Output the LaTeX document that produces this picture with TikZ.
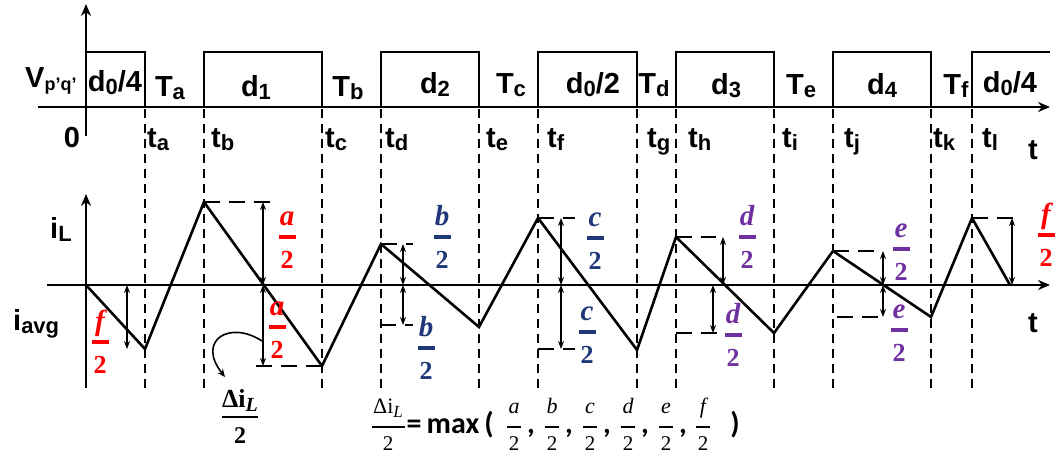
\documentclass[tikz,border=0pt]{standalone}
\usepackage{fontspec}
\newfontfamily\arial{Liberation Sans}
\newfontfamily\serifb{Liberation Serif}
\newfontfamily\carl{Carlito}
\usetikzlibrary{arrows.meta}
\definecolor{myred}{RGB}{255,0,0}
\definecolor{myblue}{RGB}{31,56,120}
\definecolor{mypurple}{RGB}{112,48,160}
\newcommand\sbx[1]{\raisebox{-3pt}{\fontsize{22}{22}\selectfont #1}}
\newcommand\sbv[1]{\raisebox{-3pt}{\fontsize{18}{18}\selectfont #1}}
\begin{document}
\begin{tikzpicture}[x=1pt,y=-1pt,
  wave/.style={line width=2.6pt, line join=miter},
  axisline/.style={line width=2.8pt},
  pulse/.style={line width=2.4pt},
  vdash/.style={line width=1.4pt, dash pattern=on 9pt off 6pt},
  hdash/.style={line width=2.2pt, dash pattern=on 16pt off 9pt},
  dim/.style={line width=1.4pt, {Stealth[length=8pt,width=6pt]}-{Stealth[length=8pt,width=6pt]}},
  lab/.style={font=\arial\bfseries\fontsize{29}{30}\selectfont, inner sep=0pt},
  frn/.style={inner sep=0pt, anchor=base, font=\serifb\bfseries\itshape\fontsize{29}{29}\selectfont},
  frd/.style={inner sep=0pt, anchor=base, font=\serifb\bfseries\fontsize{26}{26}\selectfont},
  fmn/.style={inner sep=0pt, anchor=base, font=\serifb\itshape\fontsize{22}{22}\selectfont},
  fmd/.style={inner sep=0pt, anchor=base, font=\serifb\fontsize{21}{21}\selectfont},
  ftx/.style={inner sep=0pt, font=\carl\bfseries\fontsize{30}{32}\selectfont},
  pics/fr/.style 2 args={code={
    \node[frn,text=#2] (-n) at (0,-12) {#1};
    \fill[#2] (-8.5,-1.6) rectangle (8.5,1.6);
    \node[frd,text=#2] (-d) at (0,31) {2};
  }},
  pics/fm/.style={code={
    \node[fmn] (-n) at (0,-14) {#1};
    \fill (-7,-0.6) rectangle (7,0.6);
    \node[fmd] (-d) at (0,23) {2};
  }},
]
\useasboundingbox (0,0) rectangle (1062,465);

% ---------- top waveform ----------
\draw[axisline,-{Stealth[length=12pt,width=10pt]}] (86,136) -- (86,4);
\draw[axisline,-{Stealth[length=12pt,width=10pt]}] (38,107) -- (1050,107);
\draw[pulse] (86,52) -- (145,52) -- (145,107);
\draw[pulse] (204,107) -- (204,52) -- (322,52) -- (322,107);
\draw[pulse] (381,107) -- (381,52) -- (479,52) -- (479,107);
\draw[pulse] (538,107) -- (538,52) -- (637,52) -- (637,107);
\draw[pulse] (676,107) -- (676,52) -- (774,52) -- (774,107);
\draw[pulse] (833,107) -- (833,52) -- (931,52) -- (931,107);
\draw[pulse] (972,107) -- (972,52) -- (1050,52);

% vertical dashed guides
\foreach \x in {145,204,322,381,479,538,637,676,774,833,931,972}
  \draw[vdash] (\x,109) -- (\x,390);

% top labels
\node[lab,anchor=base west] (vpq) at (25,88) {V\sbv{p’q’}};
\node[lab,anchor=base] (p1) at (115,92) {d\sbx{0}/4};
\node[lab,anchor=base] (Ta) at (170,97) {T\sbx{a}};
\node[lab,anchor=base] (p2) at (256,97) {d\sbx{1}};
\node[lab,anchor=base] (Tb) at (348,97) {T\sbx{b}};
\node[lab,anchor=base] (p3) at (435,94) {d\sbx{2}};
\node[lab,anchor=base] (Tc) at (511,94) {T\sbx{c}};
\node[lab,anchor=base] (p4) at (593,94) {d\sbx{0}/2};
\node[lab,anchor=base] (Td) at (654,94) {T\sbx{d}};
\node[lab,anchor=base] (p5) at (726,95) {d\sbx{3}};
\node[lab,anchor=base] (Te) at (801,95) {T\sbx{e}};
\node[lab,anchor=base] (p6) at (882,95) {d\sbx{4}};
\node[lab,anchor=base] (Tf) at (956,95) {T\sbx{f}};
\node[lab,anchor=base] (p7) at (1010,93) {d\sbx{0}/4};

\node[lab] (zero) at (72,138) {0};
\node[lab,anchor=base] (ttop) at (1033,160) {t};
\foreach \x/\s in {147/a,211/b,325/c,385/d,486/e,547/f,647/g,688/h,782/i,844/j,933/k,982/l}
  \node[lab,anchor=base west] (t\s) at (\x,148) {t\sbx{\s}};

% ---------- bottom waveform ----------
\draw[axisline,-{Stealth[length=12pt,width=10pt]}] (86,388) -- (86,194);
\draw[axisline,-{Stealth[length=12pt,width=10pt]}] (47,285) -- (1050,285);
\draw[wave] (86,285) -- (145,349) -- (204,202) -- (322,366) -- (381,244) -- (479,327)
  -- (538,218) -- (637,350) -- (676,237) -- (774,333) -- (833,251) -- (931,317)
  -- (972,218) -- (1010,285);

\node[lab,anchor=base west] (iL) at (50,238) {i\sbx{L}};
\node[lab,anchor=base west] (iavg) at (13,330) {i\sbx{avg}};
\node[lab,anchor=base] (tbot) at (1033,332) {t};

% reference dashed levels
\draw[hdash] (204,202) -- (277,202);
\draw[hdash] (322,366) -- (248,366);
\draw[hdash] (381,244) -- (413,244);
\draw[hdash] (380,325) -- (413,325);
\draw[hdash] (538,218) -- (575,218);
\draw[hdash] (538,349) -- (575,349);
\draw[hdash] (676,237) -- (716,237);
\draw[hdash] (676,333) -- (722,333);
\draw[hdash] (833,251) -- (878,251);
\draw[hdash] (837,317) -- (878,317);
\draw[hdash] (972,218) -- (1017,218);

% dimension arrows
\draw[dim] (127,285) -- (127,349);
\draw[dim] (263,202) -- (263,285);
\draw[dim] (263,285) -- (263,366);
\draw[dim] (403,244) -- (403,285);
\draw[dim] (403,285) -- (403,325);
\draw[dim] (561,218) -- (561,285);
\draw[dim] (561,285) -- (561,349);
\draw[dim] (723,237) -- (723,285);
\draw[dim] (713,285) -- (713,333);
\draw[dim] (883,251) -- (883,285);
\draw[dim] (883,285) -- (883,317);
\draw[dim] (1012,218) -- (1012,285);

% fraction labels (positions = fraction bar centres)
\pic (f1) at (100,342) {fr={f}{myred}};
\pic (a1) at (287,237) {fr={a}{myred}};
\pic (a2) at (277,327) {fr={a}{myred}};
\pic (b1) at (442,237) {fr={b}{myblue}};
\pic (b2) at (426,348) {fr={b}{myblue}};
\pic (c1) at (595,238) {fr={c}{myblue}};
\pic (c2) at (587,332) {fr={c}{myblue}};
\pic (d1) at (747,237) {fr={d}{mypurple}};
\pic (d2) at (733,335) {fr={d}{mypurple}};
\pic (e1) at (901,249) {fr={e}{mypurple}};
\pic (e2) at (899,330) {fr={e}{mypurple}};
\pic (f2) at (1046,235) {fr={f}{myred}};

% delta i_L / 2 callout
\coordinate (cs) at (262,341);
\coordinate (ce) at (225,377);
\draw[line width=1.6pt,-{Stealth[length=8pt,width=7pt]}] (cs) .. controls (230,320) and (196,340) .. (ce);
\node[inner sep=0pt,anchor=base,font=\serifb\bfseries\fontsize{26}{26}\selectfont] (dil) at (240,407) {Δi\raisebox{-4pt}{\itshape\fontsize{20}{20}\selectfont L}};
\fill (222,416) rectangle (258,418.2);
\node[inner sep=0pt,anchor=base,font=\serifb\bfseries\fontsize{24}{24}\selectfont] (dil2) at (240,443) {2};

% formula
\node[fmn,font=\serifb\fontsize{22}{22}\selectfont] (fdi) at (388,413) {Δi\raisebox{-4pt}{\itshape\fontsize{17}{17}\selectfont L}};
\fill (372,426.4) rectangle (405,427.6);
\node[fmd] (fd2) at (388,450) {2};
\node[ftx,anchor=base] (feq) at (414,433) {=};
\node[ftx,anchor=base] (fmax) at (453,433) {max};
\node[ftx,anchor=base] (fopen) at (489,433) {(};
\pic (ma) at (514,427) {fm=a};
\node[ftx,anchor=base] (c1x) at (531,433) {,};
\pic (mb) at (552,427) {fm=b};
\node[ftx,anchor=base] (c2x) at (569,433) {,};
\pic (mc) at (590,427) {fm=c};
\node[ftx,anchor=base] (c3x) at (607,433) {,};
\pic (md) at (628,427) {fm=d};
\node[ftx,anchor=base] (c4x) at (645,433) {,};
\pic (me) at (666,427) {fm=e};
\node[ftx,anchor=base] (c5x) at (683,433) {,};
\pic (mf) at (703,427) {fm=f};
\node[ftx,anchor=base] (cpar) at (735,433) {)};
\end{tikzpicture}
\end{document}
